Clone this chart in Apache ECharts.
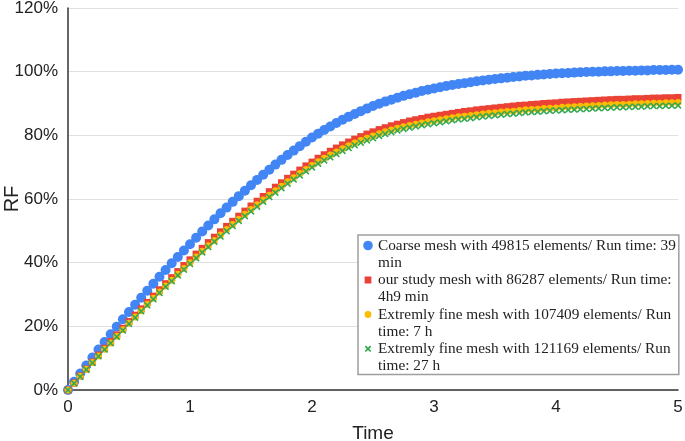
<!DOCTYPE html>
<html>
<head>
<meta charset="utf-8">
<script src="https://cdn.jsdelivr.net/npm/echarts@6/dist/echarts.min.js"></script>
<style>html,body{margin:0;padding:0;background:#fff}#c{width:685px;height:441px}</style>
</head>
<body>
<div id="c"></div>
<script>
const time = [0,0.05,0.1,0.15,0.2,0.25,0.3,0.35,0.4,0.45,0.5,0.55,0.6,0.65,0.7,0.75,0.8,0.85,0.9,0.95,
1,1.05,1.1,1.15,1.2,1.25,1.3,1.35,1.4,1.45,1.5,1.55,1.6,1.65,1.7,1.75,1.8,1.85,1.9,1.95,
2,2.05,2.1,2.15,2.2,2.25,2.3,2.35,2.4,2.45,2.5,2.55,2.6,2.65,2.7,2.75,2.8,2.85,2.9,2.95,
3,3.05,3.1,3.15,3.2,3.25,3.3,3.35,3.4,3.45,3.5,3.55,3.6,3.65,3.7,3.75,3.8,3.85,3.9,3.95,
4,4.05,4.1,4.15,4.2,4.25,4.3,4.35,4.4,4.45,4.5,4.55,4.6,4.65,4.7,4.75,4.8,4.85,4.9,4.95,5];

const coarse = [0,2.6,5.2,7.7,10.2,12.7,15.1,17.5,19.9,22.2,24.5,26.8,29.0,31.2,33.4,35.6,37.7,39.8,41.8,43.8,
45.8,47.8,49.8,51.7,53.6,55.5,57.3,59.1,60.9,62.6,64.3,66.0,67.6,69.2,70.8,72.3,73.8,75.2,76.6,78.0,
79.3,80.5,81.7,82.8,83.9,84.9,85.8,86.7,87.6,88.4,89.2,89.9,90.6,91.2,91.8,92.4,92.9,93.4,93.9,94.3,
94.7,95.1,95.5,95.8,96.1,96.4,96.7,97.0,97.2,97.5,97.7,97.9,98.1,98.3,98.5,98.7,98.8,99.0,99.1,99.3,
99.4,99.5,99.6,99.7,99.8,99.9,100.0,100.0,100.1,100.1,100.2,100.2,100.3,100.3,100.4,100.4,100.5,100.5,100.5,100.6,100.6];

const study = [0,2.2,4.4,6.6,8.8,11.0,13.1,15.2,17.3,19.4,21.5,23.5,25.5,27.5,29.5,31.5,33.4,35.3,37.2,39.1,
40.9,42.7,44.5,46.3,48.0,49.7,51.4,53.0,54.6,56.2,57.8,59.3,60.8,62.3,63.7,65.1,66.5,67.8,69.1,70.4,
71.6,72.8,73.9,75.0,76.0,77.0,77.9,78.8,79.6,80.4,81.1,81.8,82.4,83.0,83.5,84.0,84.5,84.9,85.3,85.7,
86.0,86.3,86.6,86.9,87.2,87.5,87.7,88.0,88.2,88.4,88.6,88.8,89.0,89.2,89.4,89.5,89.7,89.8,90.0,90.1,
90.2,90.4,90.5,90.6,90.7,90.8,90.9,91.0,91.1,91.2,91.3,91.3,91.4,91.5,91.5,91.6,91.7,91.7,91.8,91.8,91.9];

const fine1 = [0,2.1,4.3,6.5,8.6,10.7,12.8,14.8,16.9,18.9,21.0,22.9,24.9,26.9,28.8,30.8,32.7,34.5,36.4,38.2,
40.0,41.8,43.6,45.3,47.0,48.7,50.4,52.0,53.6,55.2,56.7,58.2,59.7,61.2,62.6,64.0,65.4,66.7,68.0,69.3,
70.5,71.7,72.8,73.8,74.8,75.8,76.7,77.6,78.4,79.1,79.8,80.5,81.1,81.7,82.2,82.7,83.1,83.5,83.9,84.3,
84.6,84.9,85.2,85.5,85.8,86.0,86.2,86.5,86.7,86.9,87.1,87.3,87.5,87.6,87.8,88.0,88.1,88.2,88.4,88.5,
88.6,88.8,88.9,89.0,89.1,89.2,89.3,89.4,89.5,89.6,89.7,89.7,89.8,89.9,89.9,90.0,90.1,90.1,90.2,90.2,90.3];

const fine2 = [0,2.1,4.2,6.4,8.5,10.6,12.7,14.7,16.7,18.7,20.8,22.7,24.7,26.6,28.5,30.5,32.4,34.2,36.0,37.8,
39.6,41.4,43.2,44.9,46.6,48.2,49.9,51.5,53.1,54.6,56.1,57.6,59.1,60.6,62.0,63.4,64.8,66.1,67.4,68.7,
69.9,71.1,72.1,73.1,74.1,75.1,76.0,76.9,77.7,78.4,79.1,79.8,80.4,81.0,81.5,82.0,82.4,82.8,83.2,83.5,
83.8,84.1,84.4,84.7,85.0,85.2,85.4,85.7,85.9,86.1,86.3,86.5,86.7,86.8,87.0,87.2,87.3,87.4,87.6,87.7,
87.8,87.9,88.0,88.1,88.2,88.3,88.4,88.5,88.6,88.7,88.8,88.8,88.9,89.0,89.0,89.1,89.2,89.2,89.3,89.3,89.4];

const seriesNames = [
  'Coarse mesh with 49815 elements/ Run time: 39 min',
  'our study mesh with 86287 elements/ Run time: 4h9 min',
  'Extremly fine mesh with 107409 elements/ Run time: 7 h',
  'Extremly fine mesh with 121169 elements/ Run time: 27 h'
];
const legendLines = [
  'Coarse mesh with 49815 elements/ Run time: 39\nmin',
  'our study mesh with 86287 elements/ Run time:\n4h9 min',
  'Extremly fine mesh with 107409 elements/ Run\ntime: 7 h',
  'Extremly fine mesh with 121169 elements/ Run\ntime: 27 h'
];
const colors = ['#4285F4', '#EA4335', '#FBBC04', '#34A853'];

function pairs(vals) { return time.map((t, i) => [t, vals[i]]); }

const B = 'M0,0 L0.01,0 L0,0.01 Z M10,34 L9.99,34 L10,33.99 Z ';
const legendIcons = [
  'path://' + B + 'M0.2,8.5 A4.8,4.8 0 1,1 9.8,8.5 A4.8,4.8 0 1,1 0.2,8.5 Z',
  'path://' + B + 'M1.6,5.1 L8.4,5.1 L8.4,11.9 L1.6,11.9 Z',
  'path://' + B + 'M1.6,8.5 A3.4,3.4 0 1,1 8.4,8.5 A3.4,3.4 0 1,1 1.6,8.5 Z',
  'path://' + B + 'M1.7,6.2 L2.9,5 L5,7.1 L7.1,5 L8.3,6.2 L6.2,8.3 L8.3,10.4 L7.1,11.6 L5,9.5 L2.9,11.6 L1.7,10.4 L3.8,8.3 Z'
];
const crossSymbol = 'path://M1.6,0 L5,3.4 L8.4,0 L10,1.6 L6.6,5 L10,8.4 L8.4,10 L5,6.6 L1.6,10 L0,8.4 L3.4,5 L0,1.6 Z';

const chart = echarts.init(document.getElementById('c'), null, { renderer: 'canvas' });
chart.setOption({
  animation: false,
  backgroundColor: '#fff',
  grid: { left: 68, right: 7, top: 8, bottom: 51, containLabel: false, outerBoundsMode: 'none' },
  xAxis: {
    type: 'value', min: 0, max: 5, interval: 1,
    name: 'Time', nameLocation: 'middle', nameGap: 34,
    nameTextStyle: { fontFamily: 'Liberation Sans', fontSize: 19, color: '#222' },
    axisLine: { show: true, lineStyle: { color: '#333', width: 1.5 } },
    axisTick: { show: false },
    splitLine: { show: false },
    axisLabel: { margin: 9, fontFamily: 'Liberation Sans', fontSize: 17, color: '#222' }
  },
  yAxis: {
    type: 'value', min: 0, max: 120, interval: 20,
    name: 'RF', nameLocation: 'middle', nameGap: 46, nameRotate: 90, nameMoveOverlap: false,
    nameTextStyle: { fontFamily: 'Liberation Sans', fontSize: 20, color: '#222' },
    axisLine: { show: true, lineStyle: { color: '#333', width: 1.5 } },
    axisTick: { show: false },
    splitLine: { show: true, lineStyle: { color: '#e0e0e0', width: 1 } },
    axisLabel: { margin: 10, fontFamily: 'Liberation Sans', fontSize: 17, color: '#222', formatter: '{value}%' }
  },
  legend: {
    orient: 'vertical', left: 358, top: 235,
    backgroundColor: '#fff', borderColor: '#9e9e9e', borderWidth: 1.5,
    padding: [2, 3, 0, 5], itemGap: 0.5,
    itemWidth: 10, itemHeight: 34,
    textStyle: { fontFamily: 'Liberation Serif', fontSize: 15.3, lineHeight: 17, color: '#222' },
    formatter: function (name) { return legendLines[seriesNames.indexOf(name)]; },
    data: seriesNames.map((n, i) => ({ name: n, icon: legendIcons[i] }))
  },
  series: [
    { name: seriesNames[0], type: 'scatter', data: pairs(coarse), symbol: 'circle', symbolSize: 10, itemStyle: { color: colors[0], opacity: 1 }, clip: false, z: 2 },
    { name: seriesNames[1], type: 'scatter', data: pairs(study), symbol: 'rect', symbolSize: 7, itemStyle: { color: colors[1], opacity: 1 }, clip: false, z: 3 },
    { name: seriesNames[2], type: 'scatter', data: pairs(fine1), symbol: 'circle', symbolSize: 7, itemStyle: { color: colors[2], opacity: 1 }, clip: false, z: 4 },
    { name: seriesNames[3], type: 'scatter', data: pairs(fine2), symbol: crossSymbol, symbolSize: 7, itemStyle: { color: colors[3], opacity: 1 }, clip: false, z: 5 }
  ]
});
</script>
</body>
</html>
